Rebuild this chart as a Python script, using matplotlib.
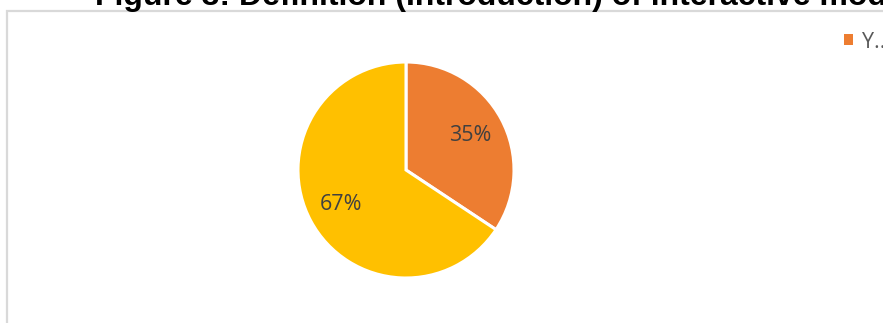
import matplotlib
matplotlib.use("Agg")
import matplotlib.pyplot as plt
from matplotlib.patches import Rectangle, Patch

# ---------------- DATA ---------------- #

values = [35, 67]
colors = ["#ED7D31", "#FFC000"]
legend_labels = ["Y..."]
title = "Figure 3: Definition (Introduction) of interactive mode"

W, H = 883, 323

fig = plt.figure(figsize=(W / 100, H / 100), dpi=100)
fig.patch.set_facecolor("white")

# chart area border (only left and top edges are in view)
fig.patches.append(Rectangle(
    (7 / W, -0.2), 1.2, 1 - 11 / H + 0.2,
    transform=fig.transFigure, fill=False,
    edgecolor="#D9D9D9", linewidth=1.6, zorder=0
))

# title sits above the frame, partly off the top edge
fig.text(
    95 / W, 1 - 4.5 / H, title,
    ha="left", va="baseline",
    fontsize=23, fontweight="bold",
    family="Liberation Sans", color="black"
)

# ---------------- PIE ---------------- #

cx, cy, r = 406, 170, 108
ax = fig.add_axes([(cx - r) / W, (H - cy - r) / H, 2 * r / W, 2 * r / H])

total = sum(values)
wedges, _, autotexts = ax.pie(
    values,
    colors=colors,
    startangle=90,
    counterclock=False,
    autopct=lambda p: f"{round(p * total / 100)}%",
    pctdistance=0.68,
    wedgeprops=dict(edgecolor="white", linewidth=2.2),
    textprops=dict(fontsize=15.5, color="#404040", family="Open Sans"),
)
for w in wedges:
    w.set_clip_on(False)

ax.set_xlim(-1, 1)
ax.set_ylim(-1, 1)
ax.set_aspect("equal")
ax.axis("off")

# ---------------- LEGEND ---------------- #

handles = [Patch(facecolor=colors[0], edgecolor="none")]
fig.legend(
    handles, legend_labels,
    loc="center left",
    bbox_to_anchor=(844 / W, 1 - 42 / H),
    frameon=False,
    handlelength=0.42, handleheight=0.42,
    handletextpad=0.4,
    borderpad=0, borderaxespad=0,
    prop=dict(family="Open Sans", size=15.5),
    labelcolor="#595959",
)

fig.savefig("out.png", dpi=100)
